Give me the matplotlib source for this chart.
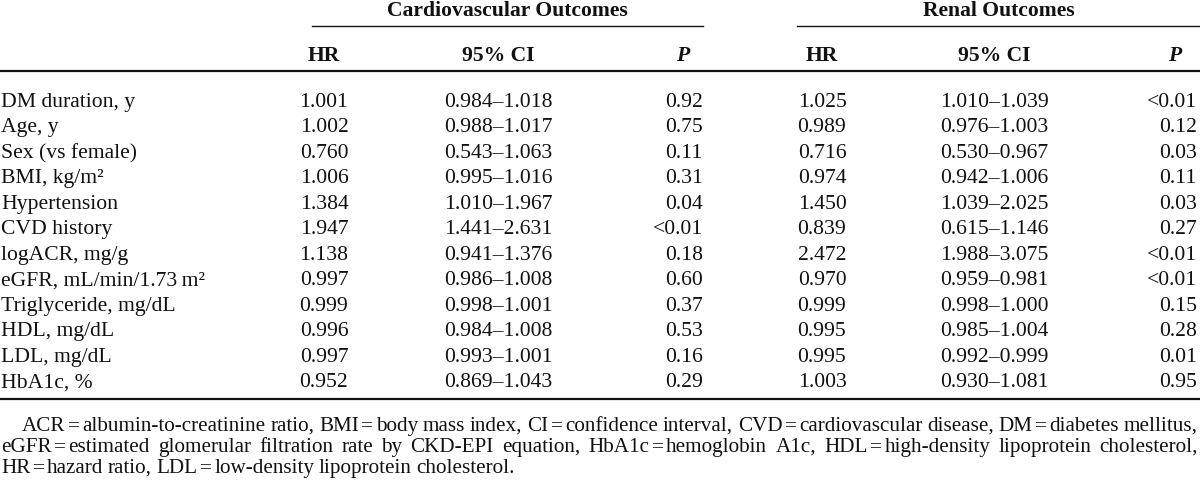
import matplotlib
matplotlib.use("Agg")
from matplotlib import pyplot

pyplot.rcParams['font.family'] = ['Liberation Serif', 'DejaVu Serif']

# table content
row_labels = ["DM duration, y", "Age, y", "Sex (vs female)", "BMI, kg/m²", "Hypertension",
              "CVD history", "logACR, mg/g", "eGFR, mL/min/1.73\u2009m²", "Triglyceride, mg/dL",
              "HDL, mg/dL", "LDL, mg/dL", "HbA1c, %"]

cv_hr = ["1.001", "1.002", "0.760", "1.006", "1.384", "1.947", "1.138", "0.997", "0.999", "0.996", "0.997", "0.952"]
cv_ci = ["0.984–1.018", "0.988–1.017", "0.543–1.063", "0.995–1.016", "1.010–1.967", "1.441–2.631",
         "0.941–1.376", "0.986–1.008", "0.998–1.001", "0.984–1.008", "0.993–1.001", "0.869–1.043"]
cv_p = ["0.92", "0.75", "0.11", "0.31", "0.04", "<0.01", "0.18", "0.60", "0.37", "0.53", "0.16", "0.29"]

renal_hr = ["1.025", "0.989", "0.716", "0.974", "1.450", "0.839", "2.472", "0.970", "0.999", "0.995", "0.995", "1.003"]
renal_ci = ["1.010–1.039", "0.976–1.003", "0.530–0.967", "0.942–1.006", "1.039–2.025", "0.615–1.146",
            "1.988–3.075", "0.959–0.981", "0.998–1.000", "0.985–1.004", "0.992–0.999", "0.930–1.081"]
renal_p = ["<0.01", "0.12", "0.03", "0.11", "0.03", "0.27", "<0.01", "<0.01", "0.15", "0.28", "0.01", "0.95"]

group_titles = ["Cardiovascular Outcomes", "Renal Outcomes"]

# "=" is set with thin spacing in the source, handled when drawing
footnote = [
    "ACR=albumin-to-creatinine ratio, BMI=body mass index, CI=confidence interval, "
    "CVD=cardiovascular disease, DM=diabetes mellitus,",
    "eGFR=estimated glomerular filtration rate by CKD-EPI equation, HbA1c=hemoglobin A1c, "
    "HDL=high-density lipoprotein cholesterol,",
    "HR=hazard ratio, LDL=low-density lipoprotein cholesterol.",
]

W, H = 1200, 481
fs = 15.6
fs_foot = 15.2
ink = '#111111'
base = 6  # baseline offset below the visual centre of a line, px

fig = pyplot.figure(figsize=(W / 100, H / 100), dpi=100)
ax = fig.add_axes([0, 0, 1, 1])
ax.set_xlim(0, W)
ax.set_ylim(H, 0)
ax.axis('off')


def put(x, y, s, ha='left', size=fs, **kw):
    return ax.text(x, y + base, s, fontsize=size, ha=ha, va='baseline', color=ink, **kw)


# column layout (pixels)
groups = [
    {"hr": 324, "ci": 498, "p": 703, "p_head": 683, "line": (312, 703)},
    {"hr": 822, "ci": 994, "p": 1197, "p_head": 1175, "line": (797, 1200)},
]

y_title = 10
y_underline = 27
y_sub = 55
y_rule = 72
y_first = 101
row_h = 25.5
y_bottom = 400

for g, title in zip(groups, group_titles):
    mid = (g["line"][0] + g["line"][1]) / 2
    put(mid, y_title, title, ha='center', fontweight='bold')
    ax.plot(g["line"], [y_underline, y_underline], color=ink, lw=1.0)
    put(g["hr"], y_sub, "HR", ha='center', fontweight='bold')
    put(g["ci"], y_sub, "95% CI", ha='center', fontweight='bold')
    put(g["p_head"], y_sub, "P", ha='center', fontweight='bold', style='italic')

ax.plot([0, W], [y_rule, y_rule], color=ink, lw=1.6)
ax.plot([0, W], [y_bottom, y_bottom], color=ink, lw=1.6)

for i, lab in enumerate(row_labels):
    y = y_first + i * row_h
    put(1, y, lab)
    for g, hr, ci, p in [(groups[0], cv_hr[i], cv_ci[i], cv_p[i]),
                         (groups[1], renal_hr[i], renal_ci[i], renal_p[i])]:
        put(g["hr"], y, hr, ha='center')
        put(g["ci"], y, ci, ha='center')
        put(g["p"], y, p, ha='right')

# footnote, justified except the last line
fig.canvas.draw()
renderer = fig.canvas.get_renderer()
foot_y = [425, 446, 467]
foot_x0 = [22, 1, 1]
right_edge = 1198
eq_gap = 2.5
word_gap = 4.5


def text_width(a):
    return a.get_window_extent(renderer).width


for k, line in enumerate(footnote):
    # each word is a list of pieces; "=" becomes its own piece with thin gaps
    words = []
    for w in line.split(" "):
        pieces = []
        parts = w.split("=")
        for j, part in enumerate(parts):
            if j > 0:
                pieces.append(put(0, foot_y[k], "=", size=fs_foot))
            pieces.append(put(0, foot_y[k], part, size=fs_foot))
        widths = [text_width(p) for p in pieces]
        words.append((pieces, widths, sum(widths) + eq_gap * (len(pieces) - 1)))

    total = sum(w[2] for w in words)
    if k == len(footnote) - 1:
        gap = word_gap
    else:
        gap = (right_edge - foot_x0[k] - total) / (len(words) - 1)
    x = foot_x0[k]
    for pieces, widths, wtot in words:
        px = x
        for p, pw in zip(pieces, widths):
            p.set_x(px)
            px += pw + eq_gap
        x += wtot + gap

fig.savefig("out.png", dpi=100)
pyplot.close(fig)
